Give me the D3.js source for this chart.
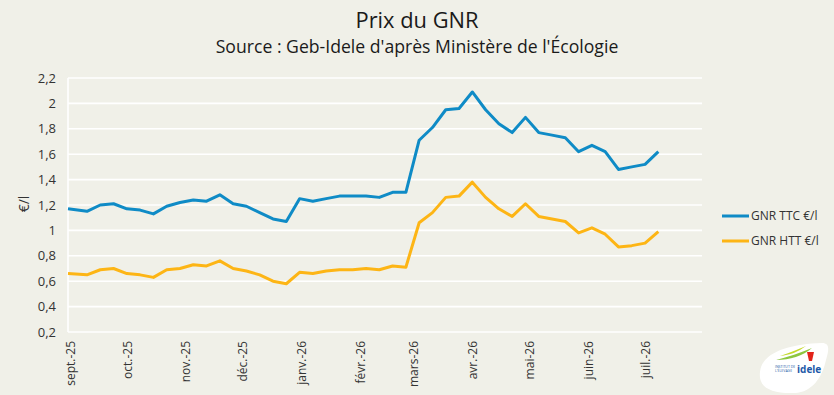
<!DOCTYPE html>
<html><head><meta charset="utf-8">
<script src="https://cdn.jsdelivr.net/npm/d3@7"></script>
<style>
html,body{margin:0;padding:0;background:#F0F0E8;}
svg{display:block;font-family:"Open Sans","Noto Sans",sans-serif;}
</style></head>
<body><svg id="c" width="834" height="395"></svg>
<script>
const dates = ["2025-09-01","2025-09-11","2025-09-18","2025-09-25","2025-10-02","2025-10-09","2025-10-16","2025-10-23","2025-10-30",
"2025-11-06","2025-11-13","2025-11-20","2025-11-27","2025-12-04","2025-12-11","2025-12-18","2025-12-25",
"2026-01-01","2026-01-08","2026-01-15","2026-01-22","2026-01-29","2026-02-05","2026-02-12","2026-02-19","2026-02-26",
"2026-03-05","2026-03-12","2026-03-19","2026-03-26","2026-04-02","2026-04-09","2026-04-16","2026-04-23","2026-04-30",
"2026-05-07","2026-05-14","2026-05-21","2026-05-28","2026-06-04","2026-06-11","2026-06-18","2026-06-25","2026-07-02","2026-07-09"];
const ttc = [1.17,1.15,1.20,1.21,1.17,1.16,1.13,1.19,1.22,1.24,1.23,1.28,1.21,1.19,1.14,1.09,1.07,1.25,1.23,1.25,
1.27,1.27,1.27,1.26,1.30,1.30,1.71,1.81,1.95,1.96,2.09,1.95,1.84,1.77,1.89,1.77,1.75,1.73,1.62,1.67,1.62,1.48,1.50,1.52,1.62];
const htt = [0.66,0.65,0.69,0.70,0.66,0.65,0.63,0.69,0.70,0.73,0.72,0.76,0.70,0.68,0.65,0.60,0.58,0.67,0.66,0.68,
0.69,0.69,0.70,0.69,0.72,0.71,1.06,1.14,1.26,1.27,1.38,1.26,1.17,1.11,1.21,1.11,1.09,1.07,0.98,1.02,0.97,0.87,0.88,0.90,0.99];
const seriesNames = ["GNR TTC €/l","GNR HTT €/l"];
const seriesColors = ["#0F8BC6","#FDB515"];
const yTicks = [0.2,0.4,0.6,0.8,1.0,1.2,1.4,1.6,1.8,2.0,2.2];
const monthTicks = ["2025-09-01","2025-10-01","2025-11-01","2025-12-01","2026-01-01","2026-02-01","2026-03-01","2026-04-01","2026-05-01","2026-06-01","2026-07-01"];
const monthLabels = ["sept.-25","oct.-25","nov.-25","déc.-25","janv.-26","févr.-26","mars-26","avr.-26","mai-26","juin-26","juil.-26"];
const title = "Prix du GNR";
const subtitle = "Source : Geb-Idele d'après Ministère de l'Écologie";
const yTitle = "€/l";

const svg = d3.select("#c");
const parse = d3.utcParse("%Y-%m-%d");
const L=68,R=702,T=78,B=332;
const x = d3.scaleUtc().domain([parse("2025-09-01"), parse("2026-08-01")]).range([L,R]);
const y = d3.scaleLinear().domain([0.2,2.2]).range([B,T]);
const fmt = v => d3.format(".1f")(v).replace(/\.0$/,"").replace(".",",");

svg.append("rect").attr("width",834).attr("height",395).attr("fill","#F0F0E8");

// titles
function fitText(sel, w){ const n=sel.node(); const cw=n.getComputedTextLength(); const fs=parseFloat(sel.attr("font-size")); sel.attr("font-size", fs*w/cw); }
const t1 = svg.append("text").attr("x",417).attr("y",28).attr("text-anchor","middle").attr("font-size",22).attr("fill","#1a1a1a").text(title);
fitText(t1,123);
const t2 = svg.append("text").attr("x",417).attr("y",53).attr("text-anchor","middle").attr("font-size",17).attr("fill","#1a1a1a").text(subtitle);
fitText(t2,403);

// grid
const g = svg.append("g");
g.selectAll("line.grid").data(yTicks).join("line")
  .attr("x1",L).attr("x2",R).attr("y1",d=>y(d)).attr("y2",d=>y(d))
  .attr("stroke","#FFFFFF").attr("stroke-width",1.6);
g.append("line").attr("x1",L).attr("x2",L).attr("y1",T).attr("y2",B).attr("stroke","#FFFFFF").attr("stroke-width",1.6);

// y axis
const ya = svg.append("g").attr("transform",`translate(${L},0)`)
  .call(d3.axisLeft(y).tickValues(yTicks).tickFormat(fmt).tickSize(0).tickPadding(12));
ya.select(".domain").remove();
ya.selectAll("text").attr("font-size",13).attr("fill","#333").attr("font-family","'Open Sans',sans-serif");

// x axis
const xa = svg.append("g").attr("transform",`translate(0,${B})`)
  .call(d3.axisBottom(x).tickValues(monthTicks.map(parse)).tickFormat((d,i)=>monthLabels[i]).tickSize(0));
xa.select(".domain").remove();
xa.selectAll("text").attr("font-size",12).attr("fill","#333").attr("font-family","'Open Sans',sans-serif")
  .attr("text-anchor","end").attr("transform","rotate(-90)").attr("x",-9).attr("y",2).attr("dy","0.35em");

svg.append("text").attr("transform","translate(29,204) rotate(-90)").attr("text-anchor","middle")
  .attr("font-size",14).attr("fill","#333").text(yTitle);

// lines
const series = [ttc, htt];
const line = d3.line().x((d,i)=>x(parse(dates[i]))).y(d=>y(d));
series.forEach((s,k)=>{
  svg.append("path").datum(s).attr("d",line).attr("fill","none")
    .attr("stroke",seriesColors[k]).attr("stroke-width",3).attr("stroke-linejoin","round");
});

// legend
const lg = svg.append("g");
seriesNames.forEach((n,k)=>{
  const yy = 216 + k*25;
  lg.append("line").attr("x1",722).attr("x2",749).attr("y1",yy).attr("y2",yy).attr("stroke",seriesColors[k]).attr("stroke-width",3);
  lg.append("text").attr("x",751).attr("y",yy).attr("dy","0.35em").attr("font-size",12).attr("fill","#333").text(n);
});

// logo
const logo = svg.append("g");
logo.append("path").attr("d","M760,372 C762,352 790,344 822,343 C830,343 829,350 826,360 C822,378 812,392 795,393 C772,394 758,388 760,372 Z").attr("fill","#FFFFFF");
logo.append("path").attr("d","M776,360 C788,357 800,353 812,348 C803,356 790,360 776,360 Z").attr("fill","#8DC63F");
logo.append("path").attr("d","M780,356 C790,353 798,349 806,346 C798,352 790,355 780,356 Z").attr("fill","#C5D92D");
logo.append("path").attr("d","M807,352 L814,352 L812,361 L809,361 Z").attr("fill","#E2231A");
logo.append("text").attr("x",797).attr("y",373).attr("font-size",10).attr("font-weight","bold").attr("fill","#1E5AA8").text("idele");
logo.append("text").attr("x",775).attr("y",368).attr("font-size",3.5).attr("fill","#1E5AA8").text("INSTITUT DE");
logo.append("text").attr("x",775).attr("y",372).attr("font-size",3.5).attr("fill","#1E5AA8").text("L'ÉLEVAGE");
</script></body></html>
